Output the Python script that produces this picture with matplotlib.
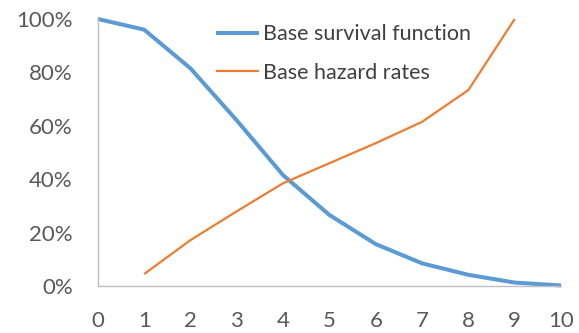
import matplotlib
matplotlib.use("Agg")
import matplotlib.pyplot as plt
from matplotlib.ticker import PercentFormatter

plt.rcParams['font.family'] = ['Lato', 'DejaVu Sans']

# values
years = [0, 1, 2, 3, 4, 5, 6, 7, 8, 9, 10]
survival = [1.00, 0.96, 0.815, 0.62, 0.415, 0.266, 0.157, 0.085, 0.042, 0.013, 0.002]
hazard_years = [1, 2, 3, 4, 5, 6, 7, 8, 9]
hazard = [0.045, 0.172, 0.28, 0.385, 0.46, 0.535, 0.615, 0.734, 1.00]

blue = '#5B9BD5'
orange = '#ED7D31'
grey = '#595959'

fig = plt.figure(figsize=(5.79, 3.33), dpi=100)
ax = fig.add_axes([0.169, 0.141, 0.8, 0.802])

ax.plot(years, survival, color=blue, lw=2.9, label='Base survival function',
        solid_capstyle='butt', clip_on=False)
ax.plot(hazard_years, hazard, color=orange, lw=1.6, label='Base hazard rates',
        solid_capstyle='butt', clip_on=False)

ax.set_xlim(0, 10)
ax.set_ylim(0, 1)
ax.set_xticks(years)
ax.set_yticks([0, 0.2, 0.4, 0.6, 0.8, 1.0])
ax.yaxis.set_major_formatter(PercentFormatter(1.0, decimals=0))
ax.tick_params(length=0, labelsize=16, colors=grey, pad=18)

for s in ['top', 'right']:
    ax.spines[s].set_visible(False)
for s in ['left', 'bottom']:
    ax.spines[s].set_color('#BFBFBF')
    ax.spines[s].set_linewidth(1.0)

leg = ax.legend(loc='upper left', bbox_to_anchor=(0.339, 0.985), bbox_transform=fig.transFigure,
                frameon=False, fontsize=15.5, handlelength=2.0, handletextpad=0.2,
                labelspacing=0.85)
for t in leg.get_texts():
    t.set_color('#404040')

fig.savefig('out.png', dpi=100)
